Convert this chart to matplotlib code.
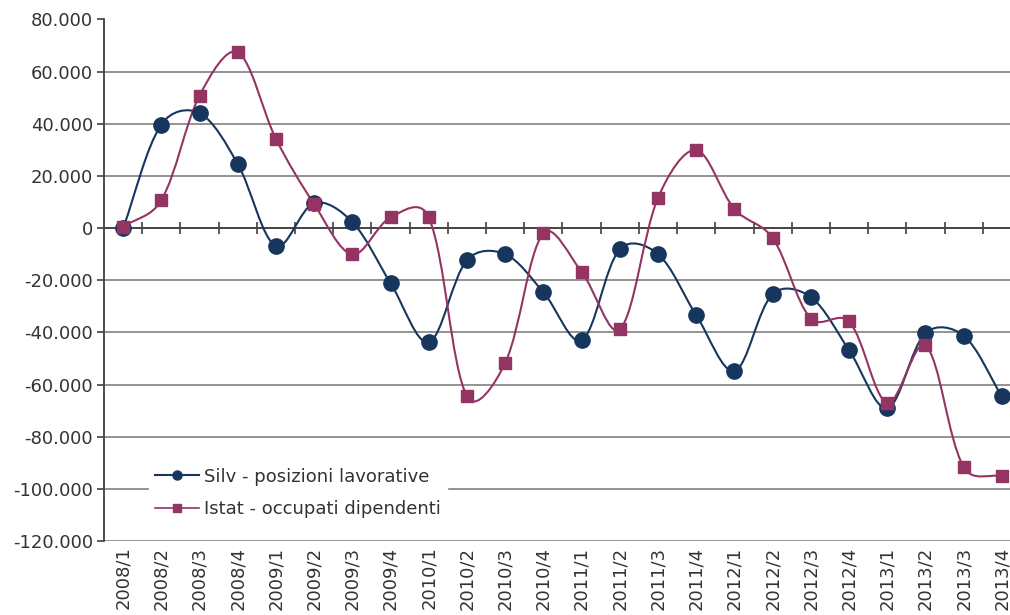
import numpy as np
import matplotlib
matplotlib.use("Agg")
import matplotlib.pyplot as plt
from matplotlib.path import Path
from matplotlib.patches import PathPatch
from matplotlib.lines import Line2D
import matplotlib.transforms as mtransforms

categories = ["2008/1", "2008/2", "2008/3", "2008/4",
              "2009/1", "2009/2", "2009/3", "2009/4",
              "2010/1", "2010/2", "2010/3", "2010/4",
              "2011/1", "2011/2", "2011/3", "2011/4",
              "2012/1", "2012/2", "2012/3", "2012/4",
              "2013/1", "2013/2", "2013/3", "2013/4"]

silv = [0, 39700, 44100, 24600,
        -6900, 9600, 2300, -21100,
        -43800, -12300, -10000, -24600,
        -43000, -8100, -10000, -33400,
        -54800, -25300, -26500, -46800,
        -69100, -40300, -41300, -64500]

istat = [500, 10700, 50800, 67400,
         34200, 9200, -10100, 4100,
         4100, -64500, -51700, -2000,
         -16800, -38800, 11600, 29900,
         7300, -3800, -34700, -35800,
         -67000, -45000, -91600, -95200]

series_names = ["Silv - posizioni lavorative", "Istat - occupati dipendenti"]
y_ticks = list(range(-120000, 80001, 20000))

NAVY = "#17365D"
MAROON = "#943463"
TXT = "#333333"
FS = 13

plt.rcParams['font.family'] = ['DejaVu Sans']

fig = plt.figure(figsize=(10.10, 6.15), dpi=100)
ax = fig.add_axes([104/1010, 1-541/615, 917/1010, (541-19.5)/615])
ax.set_xlim(-0.5, len(categories) - 0.5)
ax.set_ylim(-120000, 80000)


def smooth_path(xs, ys, blend=0.5):
    # smoothing in display space; tangents partly scaled by chord lengths
    pts = ax.transData.transform(np.column_stack([xs, ys]).astype(float))
    n = len(pts)
    d = np.hypot(*np.diff(pts, axis=0).T)
    verts = [pts[0]]
    codes = [Path.MOVETO]
    for i in range(n - 1):
        p1, p2 = pts[i], pts[i+1]
        if i > 0:
            f = (1 - blend) + blend * 2 * d[i] / (d[i-1] + d[i])
            t1 = (pts[i+1] - pts[i-1]) * f / 6
        else:
            t1 = (p2 - p1) / 3
        if i + 2 < n:
            f = (1 - blend) + blend * 2 * d[i] / (d[i] + d[i+1])
            t2 = (pts[i+2] - pts[i]) * f / 6
        else:
            t2 = (p2 - p1) / 3
        verts += [p1 + t1, p2 - t2, p2]
        codes += [Path.CURVE4] * 3
    verts = ax.transData.inverted().transform(np.array(verts))
    return Path(verts, codes)


x = np.arange(len(categories))
for vals, col, mk, ms in [(silv, NAVY, 'o', 11), (istat, MAROON, 's', 8.5)]:
    ax.add_patch(PathPatch(smooth_path(x, vals), facecolor='none', edgecolor=col, lw=1.5, zorder=3))
    ax.plot(x, vals, linestyle='none', marker=mk, markersize=ms, color=col,
            markeredgecolor=col, zorder=4)

ax.set_yticks(y_ticks)
ax.set_yticklabels([f"{v:,}".replace(',', '.') for v in y_ticks], fontsize=FS, color=TXT)
ax.yaxis.grid(True, color='#8a8a8a', lw=1.3, zorder=0)
ax.set_axisbelow(True)

for s in ['top', 'right']:
    ax.spines[s].set_visible(False)
ax.spines['left'].set_color('#404040')
ax.spines['left'].set_linewidth(1.3)
ax.spines['bottom'].set_position(('data', 0))
ax.spines['bottom'].set_color('#404040')
ax.spines['bottom'].set_linewidth(1.3)
ax.spines['bottom'].set_zorder(2)
ax.tick_params(axis='y', direction='out', length=5, width=1.2, color='#404040', pad=3)
ax.set_xticks(np.arange(0.5, len(categories) - 0.5, 1.0))
ax.set_xticklabels([])
ax.tick_params(axis='x', direction='inout', length=9, width=1.2, color='#404040')

trans = mtransforms.blended_transform_factory(ax.transData, ax.transAxes)
for i, c in enumerate(categories):
    ax.annotate(c, xy=(i, 0), xycoords=trans, xytext=(0, -4), textcoords='offset points',
                rotation=90, ha='center', va='top', fontsize=FS, color=TXT,
                annotation_clip=False)

handles = [Line2D([], [], color=NAVY, lw=1.5, marker='o', markersize=6.5),
           Line2D([], [], color=MAROON, lw=1.2, marker='s', markersize=5.5)]
leg = ax.legend(handles, series_names, loc='upper left', bbox_to_anchor=(0.049, 0.153),
                fontsize=FS, frameon=True, fancybox=False, framealpha=1,
                edgecolor='white', facecolor='white', handlelength=2.4,
                handletextpad=0.3, labelspacing=0.8, borderpad=0.35, borderaxespad=0)
for t in leg.get_texts():
    t.set_color(TXT)

fig.savefig("out.png", dpi=100)
